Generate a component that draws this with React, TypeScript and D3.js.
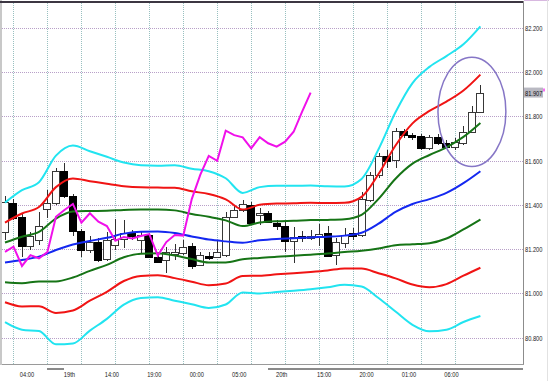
import React from 'react';
import * as d3 from 'd3';

// ---- Candles (hourly), index 0..56 ----
const opens = [81.279,81.410,81.344,81.214,81.241,81.379,81.410,81.553,81.440,81.282,81.196,81.233,81.155,81.219,81.246,81.277,81.241,81.264,81.166,81.151,81.178,81.181,81.214,81.128,81.171,81.164,81.173,81.346,81.377,81.399,81.354,81.362,81.319,81.304,81.238,81.259,81.248,81.255,81.271,81.173,81.228,81.271,81.264,81.422,81.535,81.621,81.602,81.735,81.715,81.711,81.655,81.706,81.681,81.663,81.681,81.730,81.821];
const highs = [81.440,81.426,81.359,81.277,81.368,81.467,81.566,81.589,81.449,81.291,81.259,81.250,81.277,81.336,81.331,81.286,81.277,81.273,81.173,81.210,81.223,81.241,81.228,81.187,81.187,81.241,81.368,81.399,81.422,81.413,81.386,81.372,81.331,81.322,81.300,81.282,81.286,81.313,81.304,81.250,81.295,81.295,81.458,81.548,81.634,81.648,81.747,81.742,81.724,81.720,81.715,81.720,81.693,81.702,81.756,81.846,81.941];
const lows = [81.241,81.331,81.164,81.196,81.219,81.340,81.399,81.431,81.259,81.164,81.182,81.142,81.146,81.196,81.205,81.241,81.182,81.160,81.137,81.092,81.151,81.173,81.110,81.124,81.151,81.160,81.164,81.340,81.368,81.313,81.309,81.318,81.286,81.187,81.137,81.232,81.241,81.214,81.164,81.128,81.205,81.241,81.255,81.413,81.521,81.566,81.566,81.702,81.693,81.648,81.648,81.670,81.657,81.648,81.670,81.724,81.815];
const closes = [81.414,81.342,81.214,81.259,81.304,81.410,81.553,81.440,81.282,81.196,81.232,81.151,81.241,81.246,81.273,81.259,81.264,81.164,81.143,81.187,81.188,81.211,81.124,81.173,81.158,81.187,81.346,81.377,81.404,81.319,81.362,81.324,81.304,81.238,81.255,81.248,81.259,81.268,81.171,81.232,81.264,81.261,81.426,81.535,81.621,81.599,81.735,81.715,81.705,81.655,81.706,81.678,81.663,81.685,81.730,81.821,81.907];

// ---- Bollinger bands, sampled every 2nd candle (index 0,2,...,56) ----
const bandStep = 2;
const bbMid = [81.140,81.151,81.166,81.196,81.221,81.237,81.251,81.270,81.279,81.280,81.273,81.257,81.243,81.235,81.229,81.240,81.246,81.249,81.253,81.256,81.261,81.274,81.315,81.368,81.404,81.426,81.454,81.498,81.552];
const bbUp1 = [81.230,81.256,81.278,81.338,81.370,81.372,81.373,81.377,81.379,81.379,81.375,81.359,81.346,81.330,81.304,81.320,81.326,81.328,81.331,81.332,81.335,81.355,81.427,81.518,81.586,81.625,81.660,81.707,81.770];
const bbUp2 = [81.320,81.361,81.390,81.480,81.519,81.507,81.495,81.484,81.479,81.478,81.477,81.461,81.449,81.425,81.379,81.400,81.406,81.407,81.409,81.408,81.409,81.436,81.539,81.668,81.768,81.824,81.866,81.916,81.988];
const bbUp3 = [81.410,81.466,81.502,81.622,81.668,81.642,81.617,81.591,81.579,81.577,81.579,81.563,81.552,81.520,81.454,81.480,81.486,81.486,81.487,81.484,81.483,81.517,81.651,81.818,81.950,82.023,82.072,82.125,82.206];
const bbLo1 = [81.050,81.046,81.054,81.054,81.072,81.102,81.129,81.163,81.179,81.181,81.171,81.155,81.140,81.140,81.154,81.160,81.166,81.170,81.175,81.180,81.187,81.193,81.203,81.218,81.222,81.227,81.248,81.289,81.334];
const bbLo2 = [80.960,80.941,80.942,80.912,80.923,80.967,81.007,81.056,81.079,81.082,81.069,81.053,81.037,81.045,81.079,81.080,81.086,81.091,81.097,81.104,81.113,81.112,81.091,81.068,81.040,81.028,81.042,81.080,81.116];
const bbLo3 = [80.870,80.836,80.830,80.770,80.774,80.832,80.885,80.949,80.979,80.983,80.967,80.951,80.934,80.950,81.004,81.000,81.006,81.012,81.019,81.028,81.039,81.031,80.979,80.918,80.858,80.829,80.836,80.871,80.898];

// Lagging span: close plotted this many candles back
const chikouShift = 20;

// ---- Axes ----
const priceTicks = [82.2, 82.0, 81.8, 81.6, 81.4, 81.2, 81.0, 80.8];
const priceTickLabels = ['82.200', '82.000', '81.800', '81.600', '81.400', '81.200', '81.000', '80.800'];
const lastPrice = 81.907;
const lastPriceLabel = '81.907';
const timeLabels = ['04:00', '19th', '14:00', '19:00', '00:00', '05:00', '20th', '15:00', '20:00', '01:00', '06:00'];
const timeLabelIdx = [2, 7, 12, 17, 22, 27, 32, 37, 42, 47, 52];
const gridIdx = [1, 5, 9, 13, 17, 21, 25, 29, 33, 37, 41, 45, 49, 53];
const sessionBars = [[5, 7], [31, 61]];
// highlighted area (ellipse): candle centre, price centre, half-width in candles, half-height in price
const highlight = { idx: 55, price: 81.82, halfIdx: 4, halfPrice: 0.247 };

const W = 549;
const H = 381;
const PL = 2, PR = 523.5, PT = 2, PB = 364.5;

const FONT = "'Liberation Sans', Arial, sans-serif";

export default function App() {
  const x = d3.scaleLinear().domain([0, 56]).range([5, 480.4]);
  const y = d3.scaleLinear().domain([80.8, 82.2]).range([337.7, 27.7]);

  const bandLine = d3
    .line<number>()
    .x((_, k) => x(k * bandStep))
    .y((v) => y(v))
    .curve(d3.curveMonotoneX);

  const chikouPts = closes
    .map((c, i) => ({ i: i - chikouShift, c }))
    .filter((p) => p.i >= 0);
  const chikouLine = d3
    .line<{ i: number; c: number }>()
    .x((p) => x(p.i))
    .y((p) => y(p.c));

  const bands: [number[], string][] = [
    [bbUp3, '#22e4f0'],
    [bbLo3, '#22e4f0'],
    [bbUp2, '#f01414'],
    [bbLo2, '#f01414'],
    [bbUp1, '#167416'],
    [bbLo1, '#167416'],
    [bbMid, '#1428f0'],
  ];

  const yLast = y(lastPrice);

  return (
    <svg
      width={W}
      height={H}
      style={{ position: 'absolute', left: 0, top: 0, background: '#fff' }}
      fontFamily={FONT}
    >
      <defs>
        <clipPath id="plot">
          <rect x={PL} y={PT} width={PR - PL} height={PB - PT} />
        </clipPath>
      </defs>
      <rect x={0} y={0} width={W} height={H} fill="#fff" />

      {/* grid */}
      <g shapeRendering="crispEdges">
        {priceTicks.map((p) => (
          <line
            key={'h' + p}
            x1={PL}
            x2={PR}
            y1={Math.round(y(p)) + 0.5}
            y2={Math.round(y(p)) + 0.5}
            stroke="#b8a0c8"
            strokeDasharray="1 1"
          />
        ))}
        {gridIdx.map((i) => (
          <line
            key={'v' + i}
            x1={Math.round(x(i)) + 0.5}
            x2={Math.round(x(i)) + 0.5}
            y1={PT + 1}
            y2={PB}
            stroke="#98c0c0"
            strokeDasharray="1 1"
          />
        ))}
      </g>

      <g clipPath="url(#plot)">
        {/* candles */}
        {opens.map((o, i) => {
          const c = closes[i];
          const up = c >= o;
          const R = Math.round(x(i));
          const cx = R + 0.5;
          const yTop = Math.round(y(Math.max(o, c))) + 0.5;
          const yBot = Math.round(y(Math.min(o, c))) + 0.5;
          const h = Math.max(yBot - yTop, 1);
          return (
            <g key={'c' + i} shapeRendering="crispEdges">
              <line x1={cx} x2={cx} y1={y(highs[i])} y2={y(lows[i])} stroke="#303030" />
              <rect
                x={R - 3.5}
                y={yTop}
                width={7}
                height={h}
                fill={up ? '#ffffff' : '#000000'}
                stroke={up ? '#383838' : '#000000'}
              />
            </g>
          );
        })}

        {/* bands */}
        {bands.map(([arr, col], k) => (
          <path key={'b' + k} d={bandLine(arr) || ''} fill="none" stroke={col} strokeWidth={2} />
        ))}

        {/* lagging span */}
        <path d={chikouLine(chikouPts) || ''} fill="none" stroke="#f010ea" strokeWidth={2} />
      </g>

      {/* highlight ellipse */}
      <ellipse
        cx={x(highlight.idx)}
        cy={y(highlight.price)}
        rx={x(highlight.idx + highlight.halfIdx) - x(highlight.idx)}
        ry={y(highlight.price - highlight.halfPrice) - y(highlight.price)}
        fill="none"
        stroke="#8676c6"
        strokeWidth={1.5}
      />

      {/* frame */}
      <g shapeRendering="crispEdges">
        <rect x={0} y={0} width={2} height={PB} fill="#c8c8c8" />
        <line x1={0} x2={PR} y1={1.5} y2={1.5} stroke="#3c3642" strokeWidth={2} />
        <line x1={PR + 0.5} x2={W} y1={0.5} y2={0.5} stroke="#d8b8e0" />
        <line x1={PR} x2={PR} y1={1} y2={PB} stroke="#8c8c8c" />
        <line x1={PL} x2={PR} y1={PB} y2={PB} stroke="#9a9a9a" />
        <line x1={W - 1.5} x2={W - 1.5} y1={0} y2={H} stroke="#e2e2e2" />
        {sessionBars.map(([a, b], k) => (
          <rect
            key={'s' + k}
            x={x(a)}
            y={368}
            width={Math.min(x(b), PR + 2) - x(a)}
            height={2}
            fill="#8a8a8a"
          />
        ))}
      </g>

      {/* price labels */}
      {priceTicks.map((p, k) => (
        <text
          key={'pl' + p}
          x={525}
          y={y(p) + 3}
          fontSize={8}
          fill="#1a1a1a"
          textLength={17.4}
          lengthAdjust="spacingAndGlyphs"
        >
          {priceTickLabels[k]}
        </text>
      ))}
      <rect x={524} y={yLast - 5} width={19} height={10} fill="#b9b9c2" />
      <text
        x={525}
        y={yLast + 3}
        fontSize={8}
        fill="#101010"
        textLength={17.4}
        lengthAdjust="spacingAndGlyphs"
      >
        {lastPriceLabel}
      </text>
      <line x1={544} x2={544} y1={yLast - 4} y2={yLast - 1} stroke="#f010ea" strokeWidth={1.2} />

      {/* time labels */}
      {timeLabels.map((t, k) => (
        <text
          key={'t' + k}
          x={x(timeLabelIdx[k]) + 5}
          y={377}
          fontSize={8}
          fill="#1a1a1a"
          textAnchor="middle"
          textLength={t.length * 2.85}
          lengthAdjust="spacingAndGlyphs"
        >
          {t}
        </text>
      ))}
    </svg>
  );
}
